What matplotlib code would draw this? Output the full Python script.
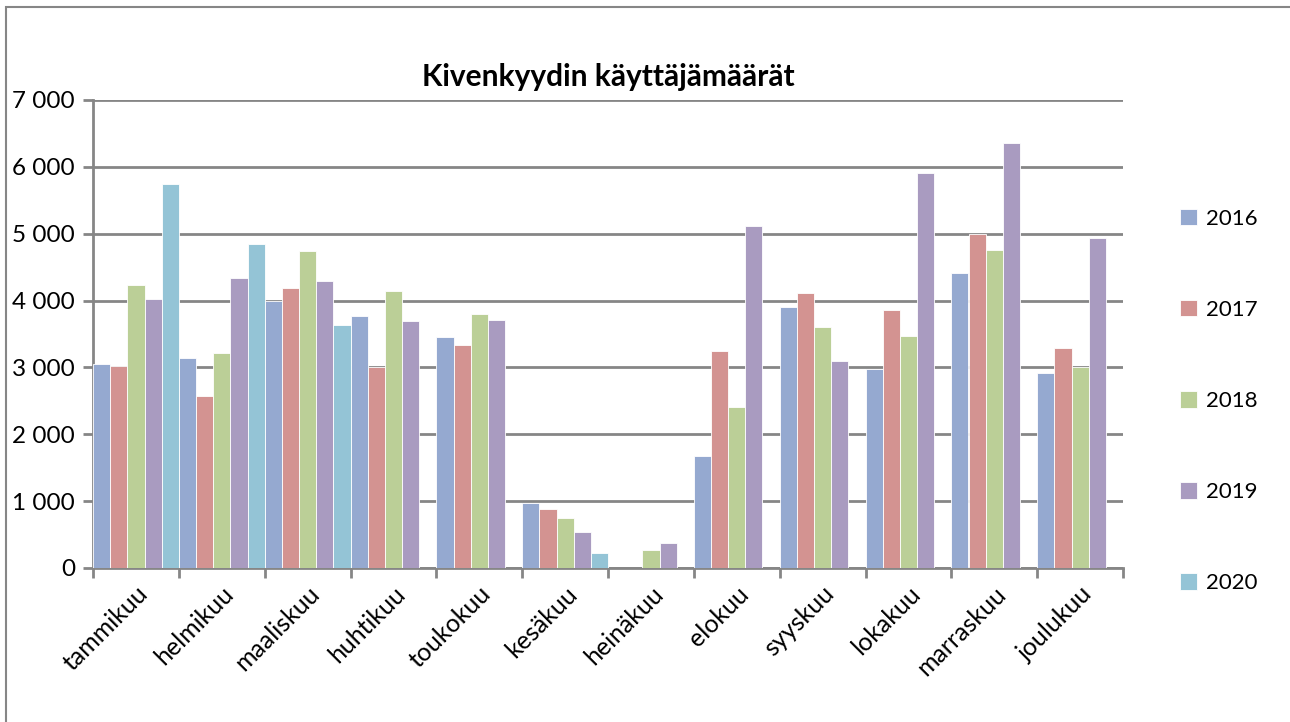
import matplotlib.pyplot as plt
import numpy as np
from matplotlib.patches import Rectangle

plt.rcParams['font.family'] = ['Lato', 'DejaVu Sans']

months = ['tammikuu', 'helmikuu', 'maaliskuu', 'huhtikuu', 'toukokuu', 'kesäkuu',
          'heinäkuu', 'elokuu', 'syyskuu', 'lokakuu', 'marraskuu', 'joulukuu']
years = ['2016', '2017', '2018', '2019', '2020']
colors = ['#95a9d0', '#d39391', '#bbcf97', '#a99bc0', '#94c4d6']

nan = np.nan
v2016 = [3045, 3135, 3995, 3770, 3450, 976, 0, 1670, 3900, 2970, 4410, 2910]
v2017 = [3015, 2575, 4185, 3000, 3330, 877, 0, 3250, 4110, 3860, 5000, 3290]
v2018 = [4235, 3220, 4735, 4140, 3800, 747, 270, 2410, 3600, 3470, 4750, 3010]
v2019 = [4030, 4345, 4300, 3700, 3710, 533, 375, 5110, 3090, 5910, 6350, 4930]
v2020 = [5740, 4840, 3630, nan, nan, 224, nan, nan, nan, nan, nan, nan]
series = [v2016, v2017, v2018, v2019, v2020]

fig = plt.figure(figsize=(12.9, 7.22), dpi=100)
ax = fig.add_axes([93/1290, 1-568/722, (1123-93)/1290, (568-100)/722])

x = np.arange(len(months))
w = 1/5
for i, (vals, c, y) in enumerate(zip(series, colors, years)):
    ax.bar(x - 0.5 + w*(i+0.5), vals, width=w, color=c, edgecolor='white',
           linewidth=0.6, label=y, zorder=3)

ax.set_xlim(-0.5, len(months)-0.5)
ax.set_ylim(0, 7000)
ax.set_yticks(range(0, 7001, 1000))
ax.set_yticklabels(['0' if t == 0 else f'{t//1000} 000' for t in range(0, 7001, 1000)], fontsize=17.5)
ax.yaxis.grid(True, color='#868686', linewidth=2, zorder=0)
ax.set_axisbelow(True)

# month names between the boundary ticks
ax.set_xticks(np.arange(-0.5, len(months), 1), minor=False)
ax.set_xticklabels([])
ax.set_xticks(x, minor=True)
ax.set_xticklabels(months, minor=True, rotation=45, ha='right', rotation_mode='anchor', fontsize=18)
ax.tick_params(axis='x', which='minor', length=0, pad=10)
ax.tick_params(axis='x', which='major', length=7, width=2, color='#868686')
ax.tick_params(axis='y', length=7, width=2, color='#868686', pad=6)

for s in ['top', 'right']:
    ax.spines[s].set_visible(False)
for s in ['left', 'bottom']:
    ax.spines[s].set_color('#868686')
    ax.spines[s].set_linewidth(2)

ax.set_title('Kivenkyydin käyttäjämäärät', fontsize=21.5, fontweight='bold', pad=10)

ax.legend(loc='upper left', bbox_to_anchor=(1.036, 0.81), frameon=False, fontsize=16,
          handlelength=0.75, handleheight=0.75, handletextpad=0.4, labelspacing=3.2)

fig.patches.append(Rectangle((6/1290, -0.1), 1.2, 1.1 - 7/722, transform=fig.transFigure,
                             fill=False, edgecolor='#868686', linewidth=1.5))

fig.savefig('out.png', dpi=100)
